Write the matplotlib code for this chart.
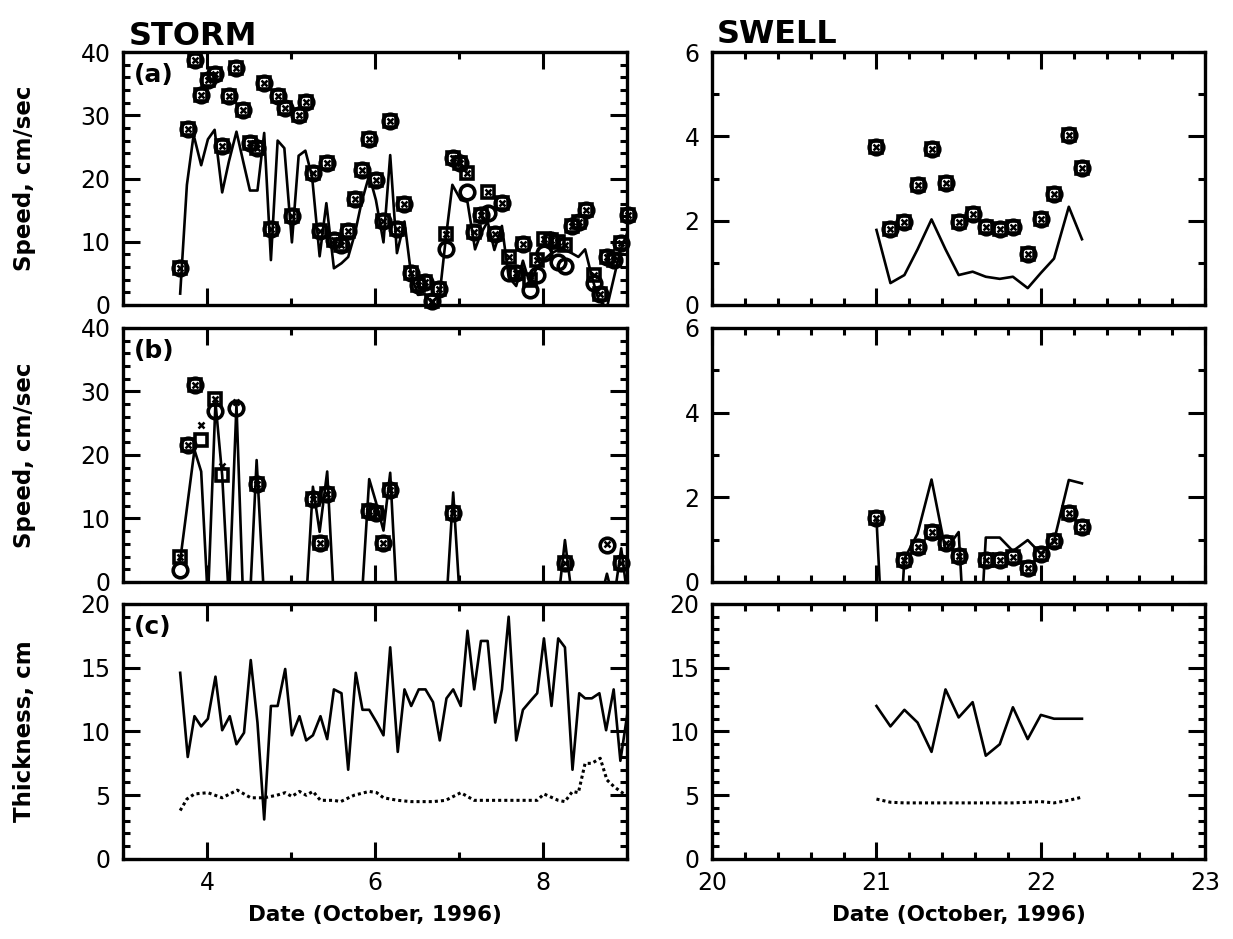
import numpy as np
import matplotlib
matplotlib.use('Agg')
from matplotlib import pyplot as plt
from matplotlib.ticker import MultipleLocator

plt.rcParams['font.family'] = ['DejaVu Sans']

nan = np.nan

# ---- STORM (a): observed speeds (squares, circles, crosses) and model line
storm_a_t = [3.68, 3.77, 3.86, 3.93, 4.01, 4.10, 4.18, 4.26, 4.34, 4.43, 4.51, 4.59,
             4.68, 4.76, 4.84, 4.93, 5.01, 5.09, 5.18, 5.26, 5.34, 5.43, 5.51, 5.59,
             5.68, 5.76, 5.84, 5.93, 6.01, 6.10, 6.18, 6.26, 6.35, 6.43, 6.51, 6.59,
             6.68, 6.76, 6.85, 6.93, 7.01, 7.10, 7.18, 7.26, 7.35, 7.43, 7.51, 7.60,
             7.68, 7.76, 7.85, 7.93, 8.01, 8.10, 8.18, 8.26, 8.35, 8.43, 8.51, 8.60,
             8.68, 8.76, 8.84, 8.93, 9.01]
storm_a_sq = [5.8, 27.9, 38.8, 33.2, 35.5, 36.5, 25.1, 33.0, 37.4, 30.9, 25.6, 24.8,
              35.1, 12.0, 33.0, 31.1, 14.0, 30.0, 32.1, 20.8, 11.7, 22.5, 10.3, 9.5,
              11.7, 16.7, 21.4, 26.2, 19.7, 13.3, 29.1, 12.0, 16.0, 5.0, 3.2, 3.7,
              0.7, 2.5, 11.3, 23.3, 22.5, 20.9, 11.6, 14.3, 17.8, 11.3, 16.2, 7.6,
              5.0, 9.6, 4.0, 7.1, 10.5, 10.2, 10.0, 9.5, 12.5, 13.2, 15.0, 4.8,
              1.8, 7.6, 7.1, 9.8, 14.2]
storm_a_circ = [5.8, 27.9, 38.8, 33.2, 35.5, 36.5, 25.1, 33.0, 37.4, 30.9, 25.6, 24.8,
                35.1, 12.0, 33.0, 31.1, 14.0, 30.0, 32.1, 20.8, 11.7, 22.5, 10.3, 9.5,
                11.7, 16.7, 21.4, 26.2, 19.7, 13.3, 29.1, 12.0, 16.0, 5.0, 3.2, 3.7,
                0.7, 2.5, 8.8, 23.3, 22.5, 17.9, 11.6, 14.3, 14.5, 11.3, 16.2, 5.0,
                5.0, 9.6, 2.4, 4.7, 8.2, 10.2, 6.8, 6.2, 12.5, 13.2, 15.0, 3.4,
                1.8, 7.6, 7.1, 9.8, 14.2]
storm_a_line_t = [3.68, 3.76, 3.84, 3.93, 4.01, 4.09, 4.18, 4.26, 4.35, 4.43, 4.51, 4.60,
                  4.68, 4.76, 4.84, 4.92, 5.01, 5.09, 5.17, 5.25, 5.34, 5.42, 5.51, 5.60,
                  5.68, 5.76, 5.84, 5.93, 6.01, 6.10, 6.18, 6.26, 6.35, 6.43, 6.51, 6.59,
                  6.68, 6.77, 6.84, 6.92, 7.02, 7.10, 7.19, 7.26, 7.34, 7.42, 7.51, 7.59,
                  7.68, 7.76, 7.84, 7.93, 8.01, 8.10, 8.18, 8.26, 8.34, 8.42, 8.50, 8.58,
                  8.66, 8.76, 8.92, 9.00]
storm_a_line = [1.8, 19.0, 26.9, 22.1, 26.2, 27.7, 17.8, 22.7, 27.4, 22.7, 18.1, 18.1,
                27.2, 7.1, 26.0, 24.8, 9.9, 23.6, 24.4, 20.3, 7.7, 16.1, 5.8, 6.6,
                7.6, 11.3, 16.3, 20.5, 16.6, 9.9, 23.7, 8.2, 13.2, 4.7, 1.6, 1.7,
                0.3, 1.8, 10.3, 19.0, 16.6, 16.3, 8.8, 11.3, 13.2, 8.7, 12.5, 4.4,
                3.0, 7.0, 3.4, 6.0, 7.2, 8.2, 8.7, 8.7, 8.2, 7.6, 8.8, 4.5,
                0.8, -0.4, 8.7, 11.3]

# ---- STORM (b)
storm_b_t = [3.68, 3.77, 3.86, 3.93, 4.10, 4.18, 4.35, 4.59, 5.26, 5.34, 5.43, 5.93,
             6.01, 6.10, 6.18, 6.93, 8.26, 8.76, 8.93]
storm_b_sq = [3.9, 21.5, 31.0, 22.3, 28.8, 16.8, nan, 15.5, 13.0, 6.2, 13.8, 11.2,
              10.8, 6.1, 14.5, 10.9, 3.0, nan, 3.0]
storm_b_circ = [1.9, 21.5, 31.0, nan, 26.9, nan, 27.4, 15.5, 13.0, 6.2, 13.8, 11.2,
                10.8, 6.1, 14.5, 10.9, 3.0, 5.8, 3.0]
storm_b_x = [3.9, 21.5, 31.0, 24.7, 28.8, 18.2, 28.4, 15.5, 13.0, 6.2, 13.8, 11.2,
             10.8, 6.1, 14.5, 10.9, 3.0, 6.0, 3.0]
storm_b_line_t = [3.68, 3.85, 3.93, 4.01, 4.10, 4.18, 4.26, 4.35, 4.43, 4.51, 4.59, 4.68,
                  5.18, 5.26, 5.34, 5.43, 5.51, 5.84, 5.93, 6.01, 6.10, 6.18, 6.26,
                  6.85, 6.93, 7.01, 8.18, 8.26, 8.35, 8.68, 8.76, 8.84, 8.93, 9.01]
storm_b_line = [3.4, 20.8, 17.4, -3, 28.3, 16.8, -3, 27.9, -3, -3, 19.2, -3,
                -3, 15.0, 7.9, 17.4, -3, -3, 16.2, 12.6, 8.1, 17.2, -3,
                -3, 14.1, -3, -3, 6.6, -3, -3, 1.3, -3, 5.3, -3]

# ---- STORM (c): thickness, solid and dotted
storm_c_t = [3.68, 3.77, 3.85, 3.93, 4.01, 4.10, 4.18, 4.27, 4.35, 4.44, 4.52, 4.60,
             4.68, 4.76, 4.84, 4.93, 5.01, 5.10, 5.18, 5.26, 5.35, 5.43, 5.51, 5.60,
             5.68, 5.77, 5.85, 5.93, 6.02, 6.10, 6.18, 6.27, 6.35, 6.43, 6.52, 6.60,
             6.69, 6.77, 6.85, 6.93, 7.02, 7.10, 7.18, 7.26, 7.34, 7.43, 7.51, 7.59,
             7.68, 7.76, 7.85, 7.93, 8.01, 8.10, 8.18, 8.26, 8.35, 8.43, 8.50, 8.58,
             8.67, 8.75, 8.84, 8.92, 9.01]
storm_c_solid = [14.6, 8.0, 11.2, 10.4, 11.0, 14.3, 10.1, 11.2, 9.0, 9.9, 15.6, 10.7,
                 3.1, 12.0, 12.0, 14.9, 9.7, 11.2, 9.3, 9.7, 11.2, 9.4, 13.3, 13.0,
                 7.0, 14.6, 11.7, 11.7, 10.7, 9.7, 16.6, 8.4, 13.3, 12.0, 13.3, 13.3,
                 12.3, 9.3, 12.6, 13.3, 12.0, 17.9, 13.3, 17.1, 17.1, 10.7, 13.3, 19.0,
                 9.3, 11.7, 12.4, 13.0, 17.3, 12.0, 17.3, 16.6, 7.0, 13.0, 12.6, 12.6,
                 13.0, 10.1, 13.3, 7.7, 11.7]
storm_c_dot_t = [3.68, 3.76, 3.85, 4.01, 4.18, 4.36, 4.52, 4.68, 4.83, 4.93, 5.01, 5.10,
                 5.18, 5.26, 5.35, 5.51, 5.59, 5.75, 5.93, 6.02, 6.10, 6.27, 6.43, 6.69,
                 6.84, 7.02, 7.18, 7.34, 7.51, 7.68, 7.93, 8.01, 8.18, 8.26, 8.35, 8.42,
                 8.50, 8.58, 8.68, 8.76, 8.84, 8.92, 9.01]
storm_c_dot = [3.8, 4.7, 5.1, 5.2, 4.8, 5.4, 4.8, 4.8, 5.0, 5.2, 4.9, 5.3,
               5.0, 5.3, 4.6, 4.6, 4.5, 5.0, 5.3, 5.2, 4.8, 4.6, 4.5, 4.5,
               4.6, 5.2, 4.6, 4.6, 4.6, 4.6, 4.6, 5.1, 4.6, 4.5, 5.3, 5.2,
               7.5, 7.5, 7.9, 6.2, 5.7, 5.3, 4.9]

# ---- SWELL (a)
swell_t = [21.00, 21.085, 21.17, 21.25, 21.335, 21.42, 21.50, 21.585, 21.665, 21.75,
           21.83, 21.92, 22.00, 22.08, 22.17, 22.25]
swell_a_pts = [3.75, 1.80, 1.98, 2.85, 3.71, 2.90, 1.97, 2.15, 1.86, 1.81,
               1.84, 1.22, 2.03, 2.63, 4.02, 3.26]
swell_a_line = [1.78, 0.52, 0.71, 1.32, 2.03, 1.32, 0.71, 0.79, 0.67, 0.62,
                0.67, 0.40, 0.76, 1.10, 2.33, 1.56]

# ---- SWELL (b)
swell_b_pts = [1.50, nan, 0.51, 0.83, 1.17, 0.93, 0.61, nan, 0.53, 0.53,
               0.58, 0.32, 0.67, 0.97, 1.63, 1.30]
swell_b_line = [1.50, -5.0, 0.55, 1.14, 2.42, 0.75, 1.18, -4.7, 1.05, 1.05,
                0.73, 0.99, 0.67, 0.97, 2.41, 2.33]

# ---- SWELL (c)
swell_c_solid = [12.0, 10.4, 11.7, 10.7, 8.4, 13.3, 11.1, 12.3, 8.1, 9.0,
                 11.9, 9.4, 11.3, 11.0, 11.0, 11.0]
swell_c_dot = [4.7, 4.45, 4.4, 4.4, 4.4, 4.4, 4.4, 4.4, 4.4, 4.4,
               4.4, 4.45, 4.5, 4.4, 4.6, 4.85]

tick_font = 17
label_font = 15.5


def style_axes(ax, xlim, xmaj, xmin, ylim, ymaj, ymin, xlabels=False):
    ax.set_xlim(*xlim)
    ax.set_ylim(*ylim)
    ax.xaxis.set_major_locator(MultipleLocator(xmaj))
    ax.xaxis.set_minor_locator(MultipleLocator(xmin))
    ax.yaxis.set_major_locator(MultipleLocator(ymaj))
    ax.yaxis.set_minor_locator(MultipleLocator(ymin))
    ax.tick_params(which='both', direction='in', top=True, right=True,
                   width=2.2, labelsize=tick_font, pad=9)
    ax.tick_params(which='major', length=12)
    ax.tick_params(which='minor', length=5)
    ax.tick_params(labelbottom=xlabels)
    for s in ax.spines.values():
        s.set_linewidth(2.4)


def markers(ax, t, sq=None, circ=None, cross=None):
    if circ is not None:
        ax.plot(t, circ, 'o', mfc='none', mec='k', ms=10.5, mew=2.6, clip_on=False, zorder=3)
    if sq is not None:
        ax.plot(t, sq, 's', mfc='none', mec='k', ms=8.5, mew=2.6, clip_on=False, zorder=3)
    if cross is not None:
        ax.plot(t, cross, 'x', mec='k', ms=5, mew=1.8, clip_on=False, zorder=4)


fig = plt.figure(figsize=(12.33, 9.39), dpi=100)

L1, W1 = 0.0998, 0.4088
L2, W2 = 0.5775, 0.4000
rows = [(0.6752, 0.2694), (0.3802, 0.2705), (0.0852, 0.2716)]

ax_sa = fig.add_axes([L1, rows[0][0], W1, rows[0][1]])
ax_sb = fig.add_axes([L1, rows[1][0], W1, rows[1][1]])
ax_sc = fig.add_axes([L1, rows[2][0], W1, rows[2][1]])
ax_wa = fig.add_axes([L2, rows[0][0], W2, rows[0][1]])
ax_wb = fig.add_axes([L2, rows[1][0], W2, rows[1][1]])
ax_wc = fig.add_axes([L2, rows[2][0], W2, rows[2][1]])

# storm column
ax_sa.plot(storm_a_line_t, storm_a_line, 'k-', lw=1.9)
markers(ax_sa, storm_a_t, sq=storm_a_sq, circ=storm_a_circ, cross=storm_a_sq)
style_axes(ax_sa, (3, 9), 2, 1, (0, 40), 10, 2)

ax_sb.plot(storm_b_line_t, storm_b_line, 'k-', lw=1.9)
markers(ax_sb, storm_b_t, sq=storm_b_sq, circ=storm_b_circ, cross=storm_b_x)
style_axes(ax_sb, (3, 9), 2, 1, (0, 40), 10, 2)

ax_sc.plot(storm_c_t, storm_c_solid, 'k-', lw=1.9)
ax_sc.plot(storm_c_dot_t, storm_c_dot, 'k', lw=2.2, linestyle=(0, (1, 1)))
style_axes(ax_sc, (3, 9), 2, 1, (0, 20), 5, 1, xlabels=True)

# swell column
ax_wa.plot(swell_t, swell_a_line, 'k-', lw=1.9)
markers(ax_wa, swell_t, sq=swell_a_pts, circ=swell_a_pts, cross=swell_a_pts)
style_axes(ax_wa, (20, 23), 1, 0.2, (0, 6), 2, 1)

ax_wb.plot(swell_t, swell_b_line, 'k-', lw=1.9)
markers(ax_wb, swell_t, sq=swell_b_pts, circ=swell_b_pts, cross=swell_b_pts)
style_axes(ax_wb, (20, 23), 1, 0.2, (0, 6), 2, 1)

ax_wc.plot(swell_t, swell_c_solid, 'k-', lw=1.9)
ax_wc.plot(swell_t, swell_c_dot, 'k', lw=2.2, linestyle=(0, (1, 1)))
style_axes(ax_wc, (20, 23), 1, 0.2, (0, 20), 5, 1, xlabels=True)

# panel letters
for ax, lab in [(ax_sa, '(a)'), (ax_sb, '(b)'), (ax_sc, '(c)')]:
    ax.text(0.022, 0.955, lab, transform=ax.transAxes, ha='left', va='top',
            fontsize=18, fontweight='bold')

# axis labels
for ax, lab in [(ax_sa, 'Speed, cm/sec'), (ax_sb, 'Speed, cm/sec'), (ax_sc, 'Thickness, cm')]:
    ax.set_ylabel(lab, fontsize=16.5, fontweight='bold')
    ax.yaxis.set_label_coords(-0.172, 0.5)

for ax in (ax_sc, ax_wc):
    ax.set_xlabel('Date (October, 1996)', fontsize=label_font, fontweight='bold')
    ax.xaxis.set_label_coords(0.5, -0.18)

fig.text(0.1046, 0.952, 'STORM', fontsize=23, fontweight='bold', va='baseline')
fig.text(0.5815, 0.954, 'SWELL', fontsize=23, fontweight='bold', va='baseline')

plt.savefig('out.png', dpi=100)
